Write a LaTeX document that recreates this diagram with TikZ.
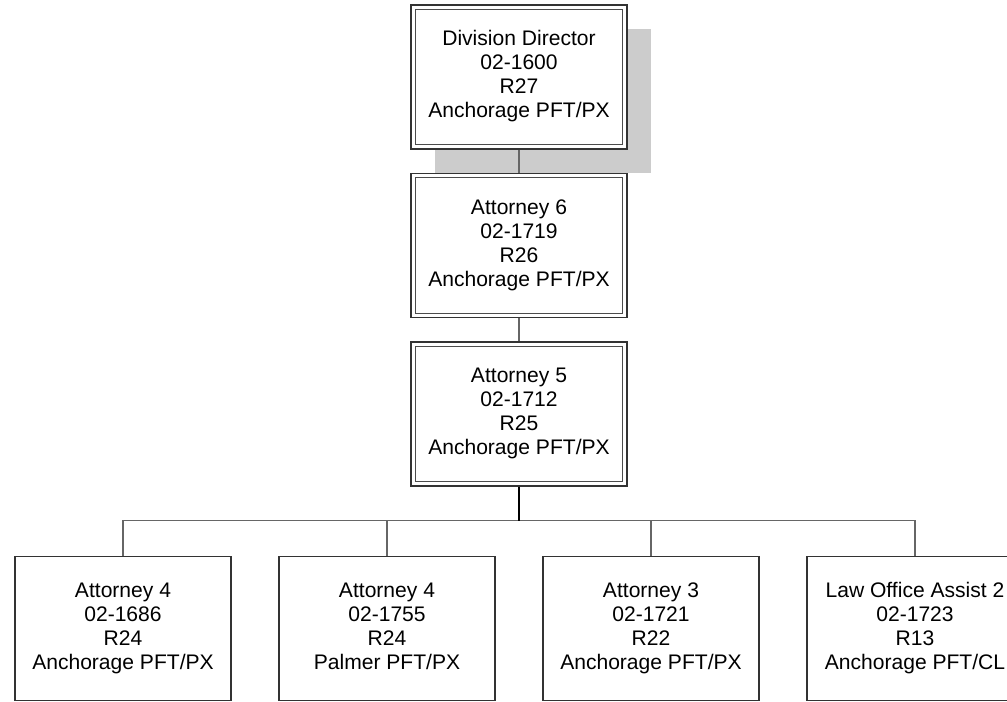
\documentclass[tikz,border=0pt]{standalone}
\usepackage{fontspec}
\setmainfont{Liberation Sans}
\begin{document}
\begin{tikzpicture}[x=0.75pt,y=-0.75pt,
  box/.style={draw=black!80, line width=1.1pt, fill=white, minimum width=216*0.75pt, minimum height=144*0.75pt, inner sep=0pt, align=center, font=\fontsize{15.8}{18}\selectfont},
  dbl/.style={draw=black!70, line width=0.9pt},
  conn/.style={draw=black!60, line width=0.9pt},
  mainconn/.style={draw=black, line width=1.5pt}]
\useasboundingbox (0,0) rectangle (1007,702);
\clip (0,0) rectangle (1007,702);
% shadow
\fill[black!20] (435,29) rectangle (651,173);
\node[box] (d) at (519,77) {\strut Division Director\\02-1600\\R27\\Anchorage PFT/PX\strut};
\draw[dbl] ([shift={(5,5)}]d.north west) rectangle ([shift={(-5,-5)}]d.south east);
\node[box] (a6) at (519,245.5) {\strut Attorney 6\\02-1719\\R26\\Anchorage PFT/PX\strut};
\draw[dbl] ([shift={(5,5)}]a6.north west) rectangle ([shift={(-5,-5)}]a6.south east);
\node[box] (a5) at (519,414) {\strut Attorney 5\\02-1712\\R25\\Anchorage PFT/PX\strut};
\draw[dbl] ([shift={(5,5)}]a5.north west) rectangle ([shift={(-5,-5)}]a5.south east);
\node[box] (b1) at (123,628.5) {\strut Attorney 4\\02-1686\\R24\\Anchorage PFT/PX\strut};
\node[box] (b2) at (387,628.5) {\strut Attorney 4\\02-1755\\R24\\Palmer PFT/PX\strut};
\node[box] (b3) at (651,628.5) {\strut Attorney 3\\02-1721\\R22\\Anchorage PFT/PX\strut};
\node[box] (b4) at (915,628.5) {\strut Law Office Assist 2\\02-1723\\R13\\Anchorage PFT/CL\strut};
\draw[conn] (d.south) -- (a6.north);
\draw[conn] (a6.south) -- (a5.north);
\draw[conn] (b1.north) -- ++(0,-35) coordinate (j) -| (b4.north);
\draw[conn] (b2.north) -- (b2.north |- j);
\draw[conn] (b3.north) -- (b3.north |- j);
\draw[mainconn] (a5.south) -- (a5.south |- j);
\end{tikzpicture}
\end{document}
